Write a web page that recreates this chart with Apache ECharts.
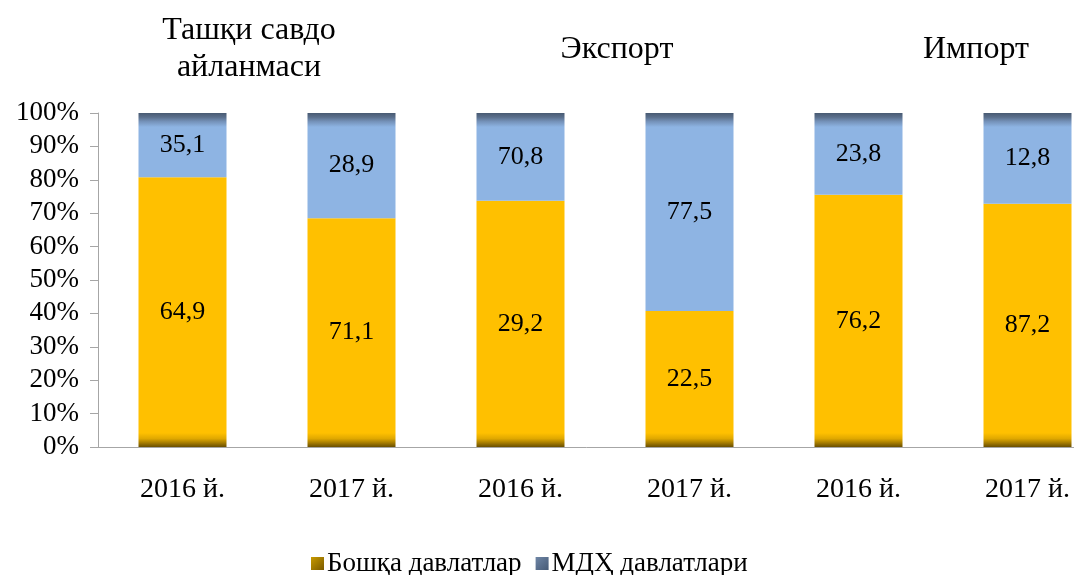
<!DOCTYPE html>
<html>
<head>
<meta charset="utf-8">
<script src="https://cdn.jsdelivr.net/npm/echarts@6/dist/echarts.min.js"></script>
<style>html,body{margin:0;padding:0;background:#fff}#c{width:1074px;height:575px}</style>
</head>
<body>
<div id="c"></div>
<script>
// ---- data ----
const categories = ['2016 й.', '2017 й.', '2016 й.', '2017 й.', '2016 й.', '2017 й.'];
const groupTitles = ['Ташқи савдо\nайланмаси', 'Экспорт', 'Импорт'];
const seriesNames = ['Бошқа давлатлар', 'МДҲ давлатлари'];
// bar heights as drawn in the picture (share of 100%)
const otherHeights = [80.8, 68.5, 73.7, 40.7, 75.5, 72.8];
const cisHeights = [19.2, 31.5, 26.3, 59.3, 24.5, 27.2];
// value labels printed on the bars
const otherLabels = ['64,9', '71,1', '29,2', '22,5', '76,2', '87,2'];
const cisLabels = ['35,1', '28,9', '70,8', '77,5', '23,8', '12,8'];
const yTicks = [0, 10, 20, 30, 40, 50, 60, 70, 80, 90, 100];

// ---- style ----
const FONT = '"Liberation Serif", "DejaVu Serif", serif';
const GRID = {left: 98, right: -38, top: 113, bottom: 128, outerBoundsMode: 'none', containLabel: false};
const plotH = 575 - GRID.top - GRID.bottom;
const BAND = 14;

function yellowFill(v) {
  const px = v / 100 * plotH;
  const f = Math.min(BAND / px, 1);
  return {
    type: 'linear', x: 0, y: 0, x2: 0, y2: 1,
    colorStops: [
      {offset: 0, color: '#FFC000'},
      {offset: 1 - f, color: '#FFC000'},
      {offset: 1 - f * 0.6, color: '#E0A800'},
      {offset: 1 - f * 0.3, color: '#A67C00'},
      {offset: 1, color: '#6A4F00'}
    ]
  };
}
function blueFill(v) {
  const px = v / 100 * plotH;
  const f = Math.min(BAND / px, 1);
  return {
    type: 'linear', x: 0, y: 0, x2: 0, y2: 1,
    colorStops: [
      {offset: 0, color: '#485A72'},
      {offset: f * 0.3, color: '#5A6F8C'},
      {offset: f * 0.6, color: '#7491B8'},
      {offset: f, color: '#8EB4E3'},
      {offset: 1, color: '#8EB4E3'}
    ]
  };
}

const chart = echarts.init(document.getElementById('c'));
chart.setOption({
  animation: false,
  backgroundColor: '#ffffff',
  title: [
    {text: groupTitles[0], left: 244, top: 7, textAlign: 'center',
     textStyle: {fontFamily: FONT, fontSize: 32, fontWeight: 'normal', color: '#000', lineHeight: 37}},
    {text: groupTitles[1], left: 612, top: 29, textAlign: 'center',
     textStyle: {fontFamily: FONT, fontSize: 32, fontWeight: 'normal', color: '#000'}},
    {text: groupTitles[2], left: 971, top: 29, textAlign: 'center',
     textStyle: {fontFamily: FONT, fontSize: 32, fontWeight: 'normal', color: '#000'}}
  ],
  legend: {
    left: 306, top: 545,
    itemWidth: 13, itemHeight: 13, itemGap: 14,
    icon: 'rect',
    textStyle: {fontFamily: FONT, fontSize: 27, color: '#000', padding: [0, 0, 0, -2]},
    data: [
      {name: seriesNames[0], itemStyle: {color: {type: 'linear', x: 0, y: 0, x2: 1, y2: 1, colorStops: [{offset: 0, color: '#C89A00'}, {offset: 1, color: '#7A5A00'}]}}},
      {name: seriesNames[1], itemStyle: {color: {type: 'linear', x: 0, y: 0, x2: 1, y2: 1, colorStops: [{offset: 0, color: '#6F86A6'}, {offset: 1, color: '#465A76'}]}}}
    ]
  },
  grid: GRID,
  xAxis: {
    type: 'category',
    data: categories,
    axisLine: {lineStyle: {color: '#A6A6A6', width: 1}},
    axisTick: {length: 9, lineStyle: {color: '#A6A6A6'}},
    axisLabel: {fontFamily: FONT, fontSize: 28, color: '#000', margin: 29}
  },
  yAxis: {
    type: 'value',
    min: yTicks[0], max: yTicks[yTicks.length - 1], interval: 10,
    axisLine: {show: true, lineStyle: {color: '#A6A6A6', width: 1}},
    axisTick: {show: true, length: 8, lineStyle: {color: '#A6A6A6'}},
    splitLine: {show: false},
    axisLabel: {fontFamily: FONT, fontSize: 27, color: '#000', margin: 19, formatter: '{value}%'}
  },
  series: [
    {
      name: seriesNames[0], type: 'bar', stack: 'all', barWidth: 88,
      data: otherHeights.map(v => ({value: v, itemStyle: {color: yellowFill(v)}})),
      itemStyle: {color: '#FFC000'},
      label: {show: true, position: 'inside', fontFamily: FONT, fontSize: 26, color: '#000',
              formatter: p => otherLabels[p.dataIndex]}
    },
    {
      name: seriesNames[1], type: 'bar', stack: 'all', barWidth: 88,
      data: cisHeights.map(v => ({value: v, itemStyle: {color: blueFill(v)}})),
      itemStyle: {color: '#8EB4E3'},
      label: {show: true, position: 'inside', fontFamily: FONT, fontSize: 26, color: '#000',
              formatter: p => cisLabels[p.dataIndex]}
    }
  ]
});
</script>
</body>
</html>
